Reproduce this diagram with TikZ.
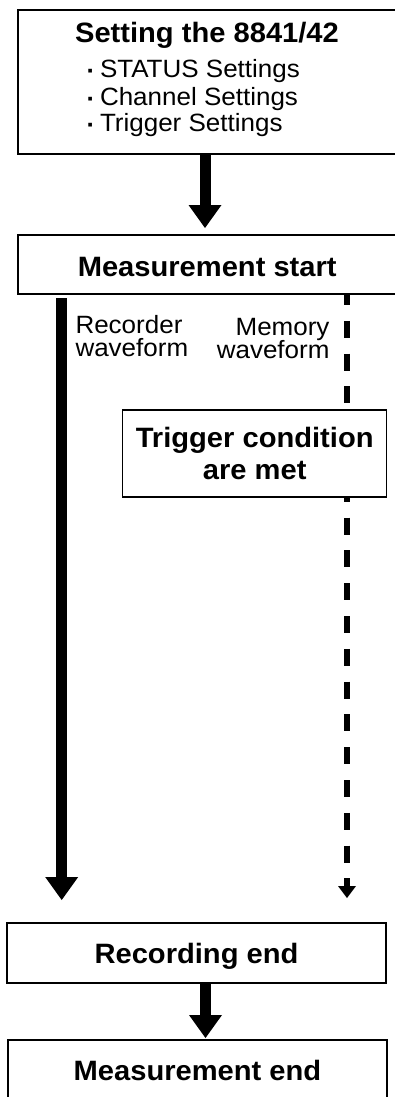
\documentclass[tikz,border=0pt]{standalone}
\usepackage{fontspec}
\setmainfont{Liberation Sans}[FakeStretch=1.04]
\usetikzlibrary{arrows.meta}
\tikzset{
  box/.style={draw, line width=1.3pt, fill=white, inner sep=0pt, outer sep=0pt, anchor=center},
  boldtxt/.style={font=\fontsize{28}{32}\selectfont\bfseries},
  regtxt/.style={font=\fontsize{25}{27}\selectfont, inner sep=0pt, outer sep=0pt},
  bigarrow/.style={line width=11pt, -{Triangle[length=23pt,width=33pt,line width=0pt 0 0]}},
  dasharrow/.style={line width=6pt, dash pattern=on 17pt off 15.8pt, dash phase=6pt,
    -{Triangle[length=12pt,width=18pt,line width=0pt 0 0]}},
}
\newcommand{\bulletdot}{\makebox[18pt][c]{\raisebox{-2pt}{\bfseries ·}}}
\begin{document}
\begin{tikzpicture}[x=1pt,y=-1pt]
\useasboundingbox (0,0) rectangle (395,1097);
\clip (0,0) rectangle (395,1097);

% boxes
\node[box, minimum width=378.5pt, minimum height=144pt] (b1) at (207.25,82) {};
\node[boldtxt, anchor=base, inner sep=0pt] (t1) at (207,42.7) {Setting the 8841/42};
\node[regtxt, anchor=base west] (s1) at (82,77.7) {\bulletdot STATUS Settings};
\node[regtxt, anchor=base west] (s2) at (82,106) {\bulletdot Channel Settings};
\node[regtxt, anchor=base west] (s3) at (82,131.7) {\bulletdot Trigger Settings};

\node[box, boldtxt, minimum width=378.5pt, minimum height=59pt, text height=24.4pt, text depth=0pt] (b2) at (207.25,264.5) {Measurement start};
\node[box, boldtxt, minimum width=379pt, minimum height=60pt, text height=20pt, text depth=0pt] (b3) at (196.5,953) {Recording end};
\node[box, boldtxt, minimum width=379pt, minimum height=60pt, text height=20pt, text depth=0pt] (b4) at (197.5,1070) {Measurement end};

% connector x positions
\coordinate (a1x) at (205,0);
\coordinate (recx) at (61.7,0);
\coordinate (memx) at (347,0);
\coordinate (a3x) at (205.5,0);

\draw[bigarrow, shorten >=7pt] (b1.south -| a1x) -- (b2.north -| a1x);
\draw[bigarrow, shorten <=4.3pt, shorten >=23pt] (b2.south -| recx) -- (b3.north -| recx);
\draw[dasharrow, shorten >=25pt] (b2.south -| memx) -- (b3.north -| memx);
\draw[bigarrow, shorten >=2pt] (b3.south -| a3x) -- (b4.north -| a3x);

% trigger box (covers the dashed line)
\node[box, boldtxt, align=center, minimum width=264pt, minimum height=87pt] (b5) at (254.7,453.5) {Trigger condition\\are met};

% labels
\node[regtxt, anchor=base west] (rec1) at (75.5,333.3) {Recorder};
\node[regtxt, anchor=base west] (rec2) at (75.5,356.7) {waveform};
\node[regtxt, anchor=base east] (mem1) at (329.5,335) {Memory};
\node[regtxt, anchor=base east] (mem2) at (329.5,358) {waveform};
\end{tikzpicture}
\end{document}
